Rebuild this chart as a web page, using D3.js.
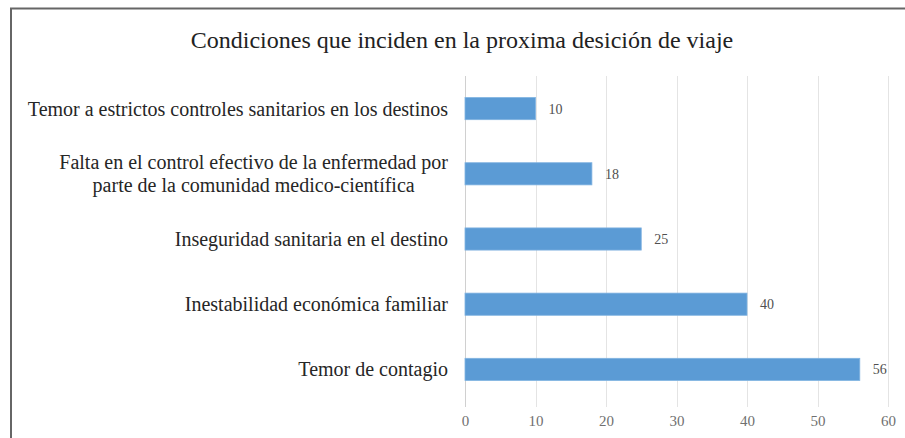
<!DOCTYPE html>
<html>
<head>
<meta charset="utf-8">
<script src="https://cdn.jsdelivr.net/npm/d3@7"></script>
<style>
  body { margin: 0; background: #fff; }
</style>
</head>
<body>
<svg width="905" height="438"></svg>
<script>
const categories = [
  'Temor a estrictos controles sanitarios en los destinos',
  'Falta en el control efectivo de la enfermedad por|parte de la comunidad medico-científica',
  'Inseguridad sanitaria en el destino',
  'Inestabilidad económica familiar',
  'Temor de contagio'
];
const values = [10, 18, 25, 40, 56];
const xTicks = [0, 10, 20, 30, 40, 50, 60];
const title = 'Condiciones que inciden en la proxima desición de viaje';

const FONT = 'Liberation Serif';
const svg = d3.select('svg');
const width = +svg.attr('width');
const height = +svg.attr('height');

const data = categories.map((c, i) => ({ cat: c, val: values[i] }));

// frame (only top and left edges show in the crop)
svg.append('path')
  .attr('d', `M11,${height} V8.5 H${width}`)
  .attr('fill', 'none')
  .attr('stroke', '#666')
  .attr('stroke-width', 2);

svg.append('text')
  .attr('x', 462)
  .attr('y', 48)
  .attr('text-anchor', 'middle')
  .attr('font-family', FONT)
  .attr('font-size', 24)
  .attr('fill', '#222')
  .text(title);

const plot = { left: 465, right: 888, top: 76, bottom: 402 };

const xScale = d3.scaleLinear()
  .domain([0, 60])
  .range([plot.left, plot.right]);

const yScale = d3.scaleBand()
  .domain(categories)
  .range([plot.top, plot.bottom])
  .paddingInner(0.66)
  .paddingOuter(0.33);

// gridlines
svg.append('g')
  .selectAll('line')
  .data(xTicks)
  .join('line')
  .attr('x1', (d) => Math.round(xScale(d)) + 0.5)
  .attr('x2', (d) => Math.round(xScale(d)) + 0.5)
  .attr('y1', plot.top)
  .attr('y2', 407)
  .attr('stroke', (d) => (d === 0 ? '#d0d0d0' : '#e4e4e4'))
  .attr('stroke-width', 1);

// x axis labels
const xAxis = svg.append('g')
  .attr('transform', `translate(0,${plot.bottom})`)
  .call(d3.axisBottom(xScale).tickValues(xTicks).tickSize(0).tickPadding(13));
xAxis.select('.domain').remove();
xAxis.selectAll('text')
  .attr('font-family', FONT)
  .attr('font-size', 15)
  .attr('fill', '#707070');

// bars
svg.append('g')
  .selectAll('rect')
  .data(data)
  .join('rect')
  .attr('x', xScale(0))
  .attr('y', (d) => yScale(d.cat))
  .attr('width', (d) => xScale(d.val) - xScale(0))
  .attr('height', yScale.bandwidth())
  .attr('fill', '#5b9bd5')
  .attr('stroke', '#80b3e1')
  .attr('stroke-width', 0.8);

// value labels
svg.append('g')
  .selectAll('text')
  .data(data)
  .join('text')
  .attr('x', (d) => xScale(d.val) + 13)
  .attr('y', (d) => yScale(d.cat) + yScale.bandwidth() / 2)
  .attr('dy', '0.35em')
  .attr('font-family', FONT)
  .attr('font-size', 14)
  .attr('fill', '#505050')
  .text((d) => d.val);

// category labels
const lbl = svg.append('g')
  .selectAll('text')
  .data(data)
  .join('text')
  .attr('text-anchor', 'end')
  .attr('font-family', FONT)
  .attr('font-size', 20)
  .attr('fill', '#262626')
  .attr('transform', (d) => `translate(448,${yScale(d.cat) + yScale.bandwidth() / 2})`);

lbl.each(function (d) {
  const lines = d.cat.split('|');
  const t = d3.select(this);
  lines.forEach((ln, i) => {
    t.append('tspan')
      .attr('x', 0)
      .attr('y', (i - (lines.length - 1) / 2) * 23)
      .attr('dy', '0.35em')
      .text(ln);
  });
});
// second line of the wrapped label sits centred under the first
lbl.filter((d) => d.cat.includes('|')).each(function () {
  const spans = d3.select(this).selectAll('tspan').nodes();
  const w0 = spans[0].getComputedTextLength();
  const w1 = spans[1].getComputedTextLength();
  d3.select(spans[1]).attr('x', -(w0 - w1) / 2);
});
</script>
</body>
</html>
